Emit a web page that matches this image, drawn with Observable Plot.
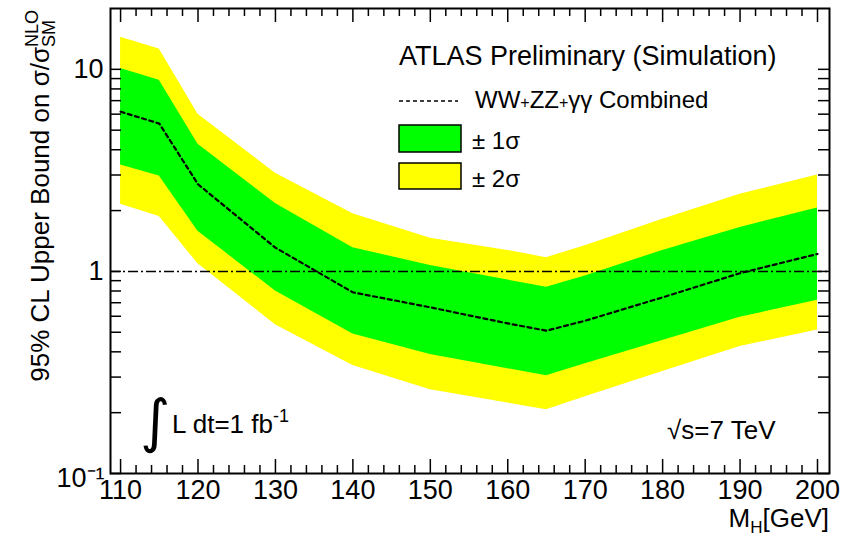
<!DOCTYPE html>
<html><head><meta charset="utf-8">
<script src="https://cdn.jsdelivr.net/npm/d3@7"></script>
<script src="https://cdn.jsdelivr.net/npm/@observablehq/plot@0.6"></script>
<style>body{margin:0;background:#fff;} svg{display:block}</style>
</head><body><div id="chart"></div>
<script>
// ---- data ----
const mass   = [110, 115, 120, 130, 140, 150, 160, 165, 170, 180, 190, 200];
const median = [6.17, 5.39, 2.70, 1.31, 0.788, 0.664, 0.553, 0.509, 0.57, 0.744, 0.98, 1.22];
const hi1    = [10.1, 8.83, 4.26, 2.17, 1.31, 1.07, 0.906, 0.834, 0.95, 1.27, 1.65, 2.06];
const lo1    = [3.36, 2.97, 1.58, 0.80, 0.49, 0.388, 0.33, 0.305, 0.349, 0.455, 0.593, 0.72];
const hi2    = [14.4, 12.6, 5.99, 3.06, 1.93, 1.46, 1.27, 1.17, 1.34, 1.81, 2.41, 3.0];
const lo2    = [2.15, 1.87, 1.09, 0.545, 0.342, 0.26, 0.223, 0.207, 0.24, 0.32, 0.425, 0.513];
const refLine = [1];

// ---- axes / ticks ----
const xDomain = [108.7, 201.55];
const yDomain = [0.1, 20];
const xMajor = [110, 120, 130, 140, 150, 160, 170, 180, 190, 200];
const xMinor = [112,114,116,118,122,124,126,128,132,134,136,138,142,144,146,148,152,154,156,158,
                162,164,166,168,172,174,176,178,182,184,186,188,192,194,196,198];
const yMajor = [0.1, 1, 10];
const yMinor = [0.2,0.3,0.4,0.5,0.6,0.7,0.8,0.9,2,3,4,5,6,7,8,9];
const yLabels = {0.1: "10⁻¹", 1: "1", 10: "10"};

const rows = mass.map((m, i) => ({m, med: median[i], lo1: lo1[i], hi1: hi1[i], lo2: lo2[i], hi2: hi2[i]}));

const W = 850, H = 536, ML = 110, MR = 21, MT = 8, MB = 63;
const FH = H - MT - MB, FW = W - ML - MR;
const font = "'Liberation Sans', Arial, Helvetica, sans-serif";

const plot = Plot.plot({
  width: W, height: H,
  marginLeft: ML, marginRight: MR, marginTop: MT, marginBottom: MB,
  style: {fontFamily: font, fontSize: "27px", background: "white", color: "black"},
  x: {domain: xDomain},
  y: {type: "log", domain: yDomain},
  marks: [
    Plot.areaY(rows, {x: "m", y1: "lo2", y2: "hi2", fill: "#ffff00"}),
    Plot.areaY(rows, {x: "m", y1: "lo1", y2: "hi1", fill: "#00ff00"}),
    Plot.line(rows, {x: "m", y: "med", stroke: "black", strokeWidth: 2.2, strokeDasharray: "4,3.5"}),
    Plot.ruleY(refLine, {stroke: "black", strokeWidth: 1.5, strokeDasharray: "10,3,2,3"}),
    // bottom & top ticks (inward)
    Plot.tickX(xMajor, {x: d => d, insetTop: FH - 14, strokeWidth: 1.5}),
    Plot.tickX(xMinor, {x: d => d, insetTop: FH - 8, strokeWidth: 1.5}),
    Plot.tickX(xMajor, {x: d => d, insetBottom: FH - 14, strokeWidth: 1.5}),
    Plot.tickX(xMinor, {x: d => d, insetBottom: FH - 8, strokeWidth: 1.5}),
    // left & right ticks (inward)
    Plot.tickY(yMajor.concat(yMinor), {y: d => d, insetRight: FW - 11, strokeWidth: 1.5}),
    Plot.tickY(yMajor.concat(yMinor), {y: d => d, insetLeft: FW - 11, strokeWidth: 1.5}),
    Plot.frame({stroke: "black", strokeWidth: 2}),
    Plot.axisX({ticks: xMajor, tickSize: 0, tickPadding: 6, fontSize: 27, label: null, tickFormat: d => String(d)}),
    Plot.axisY({ticks: yMajor.slice(1), tickSize: 0, tickPadding: 7, fontSize: 27, label: null, tickFormat: d => yLabels[d]}),
    Plot.axisY({ticks: yMajor.slice(0, 1), tickSize: 0, tickPadding: 6, fontSize: 27, dy: 5, label: null, tickFormat: d => yLabels[d]})
  ]
});
document.getElementById("chart").appendChild(plot);

// ---- annotations & legend ----
const svg = d3.select(plot);
const g = svg.append("g").attr("font-family", font).attr("fill", "black").attr("text-anchor", "start");

// y title (rotated)
const yt = g.append("text")
  .attr("transform", "translate(49,10) rotate(-90)")
  .attr("text-anchor", "end").attr("font-size", 26);
yt.append("tspan").text("95% CL Upper Bound on σ/σ");
const sm = yt.append("tspan").attr("font-size", 18).attr("dy", 6).text("SM");
const smW = sm.node().getComputedTextLength();
yt.append("tspan").attr("font-size", 18).attr("dx", -smW).attr("dy", -17).text("NLO");

// x title
const xt = g.append("text").attr("x", 829).attr("y", 527).attr("text-anchor", "end").attr("font-size", 26);
xt.append("tspan").text("M");
xt.append("tspan").attr("font-size", 17).attr("dy", 6).text("H");
xt.append("tspan").attr("dy", -6).text("[GeV]");

// legend
g.append("text").attr("x", 399).attr("y", 65).attr("font-size", 27).text("ATLAS Preliminary (Simulation)");
g.append("line").attr("x1", 399).attr("x2", 458).attr("y1", 101).attr("y2", 101)
  .attr("stroke", "black").attr("stroke-width", 1.5).attr("stroke-dasharray", "4,3");
const lt = g.append("text").attr("x", 475).attr("y", 108).attr("font-size", 24);
lt.append("tspan").text("WW");
lt.append("tspan").attr("font-size", 16).text("+");
lt.append("tspan").text("ZZ");
lt.append("tspan").attr("font-size", 16).text("+");
lt.append("tspan").text("γγ Combined");
g.append("rect").attr("x", 399).attr("y", 125).attr("width", 62).attr("height", 27)
  .attr("fill", "#00ff00").attr("stroke", "black").attr("stroke-width", 1.5);
g.append("text").attr("x", 472).attr("y", 149).attr("font-size", 24).text("± 1σ");
g.append("rect").attr("x", 399).attr("y", 163).attr("width", 62).attr("height", 26)
  .attr("fill", "#ffff00").attr("stroke", "black").attr("stroke-width", 1.5);
g.append("text").attr("x", 472).attr("y", 187).attr("font-size", 24).text("± 2σ");

// luminosity label
g.append("text").attr("x", 140).attr("y", 441).attr("font-family", "'DejaVu Sans', sans-serif")
  .attr("font-size", 58).text("∫");
const li = g.append("text").attr("x", 172).attr("y", 433).attr("font-size", 26);
li.append("tspan").text("L dt=1 fb");
li.append("tspan").attr("font-size", 18).attr("dy", -11).text("-1");

// energy label
g.append("text").attr("x", 667).attr("y", 439).attr("font-size", 26).text("√s=7 TeV");
</script>
</body></html>
